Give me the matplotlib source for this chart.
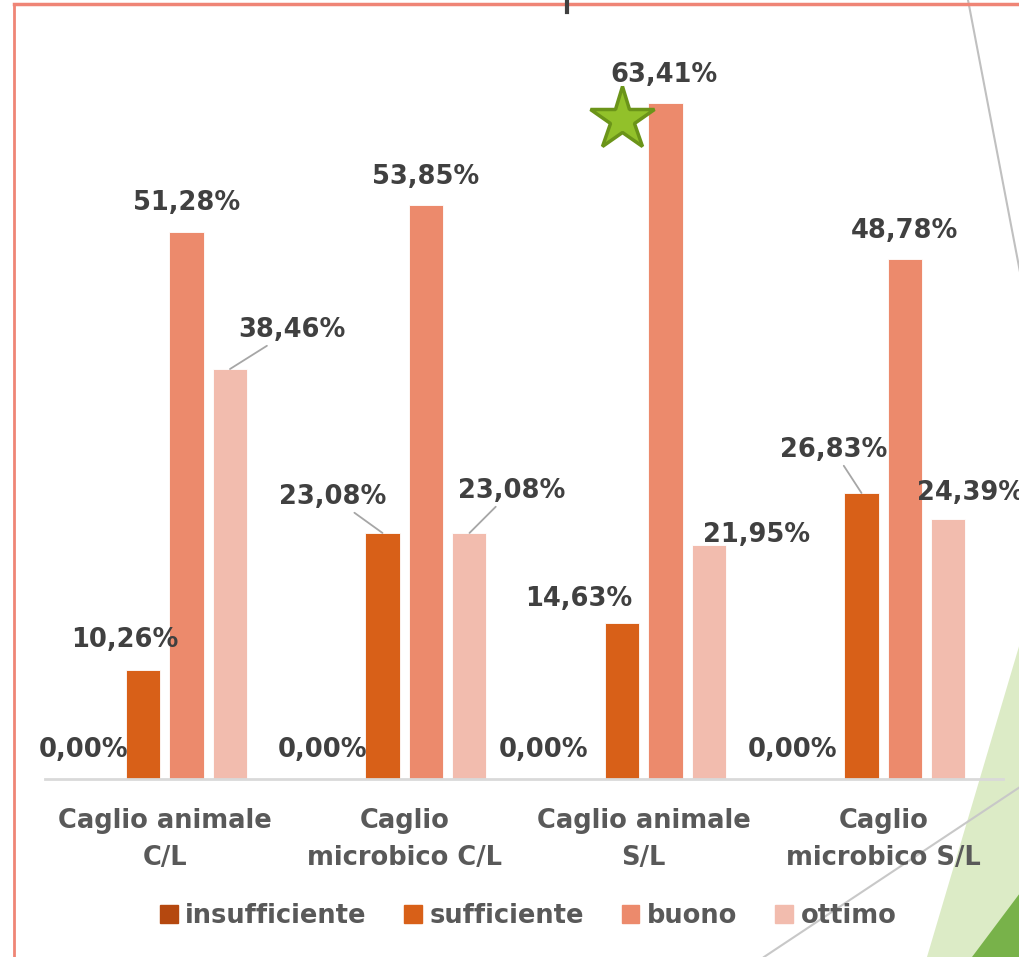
import numpy as np
import matplotlib
matplotlib.use('Agg')
import matplotlib.pyplot as plt
from matplotlib.patches import Patch, Polygon

# data
categories = ['Caglio animale\nC/L', 'Caglio\nmicrobico C/L', 'Caglio animale\nS/L', 'Caglio\nmicrobico S/L']
series = ['insufficiente', 'sufficiente', 'buono', 'ottimo']
insufficiente = [0.00, 0.00, 0.00, 0.00]
sufficiente = [10.26, 23.08, 14.63, 26.83]
buono = [51.28, 53.85, 63.41, 48.78]
ottimo = [38.46, 23.08, 21.95, 24.39]
values = [insufficiente, sufficiente, buono, ottimo]

colors = ['#b5480f', '#d86018', '#ec8a6c', '#f2bcae']

# label offsets in pixels (dx, dy) from the top centre of each bar, and whether a leader line is drawn
label_off = [
    [(-16, 29), (-16, 29), (-35, 29), (-25, 29)],
    [(-18, 30), (-50, 36), (-43, 24), (-28, 43)],
    [(0, 29), (0, 28), (-1, 28), (0, 28)],
    [(62, 39), (42, 42), (48, 10), (22, 26)],
]
leaders = {(3, 0), (1, 1), (3, 1), (1, 3)}

FS = 18.5
W, H = 1020, 957
fig = plt.figure(figsize=(W / 100, H / 100), dpi=100)

# slide decoration behind the chart
bg = fig.add_axes([0, 0, 1, 1], zorder=0)
bg.set_xlim(0, W)
bg.set_ylim(H, 0)
bg.axis('off')
bg.add_patch(Polygon([(1020, 643), (927, 957), (1020, 957)], closed=True, color='#dcebc6', lw=0))
bg.add_patch(Polygon([(1020, 893), (972, 957), (1020, 957)], closed=True, color='#78b24a', lw=0))
bg.plot([968, 1020], [0, 272], color='#c0c0c0', lw=1.5)
bg.plot([1020, 764], [787, 957], color='#c8c8c8', lw=1.5)
bg.plot([14, 14], [4, 957], color='#ef8576', lw=2)
bg.plot([14, 1020], [4, 4], color='#ef8576', lw=2.5)
bg.plot([567, 567], [0, 12], color='#404040', lw=3)

ax = fig.add_axes([45 / W, (H - 779) / H, (1003 - 45) / W, 746.2 / H], zorder=1)
ax.patch.set_alpha(0)

x = np.arange(len(categories))
bw = 0.142
step = 0.1816
for i, vals in enumerate(values):
    pos = x + (i - 1.5) * step
    ax.bar(pos, vals, width=bw, color=colors[i], label=series[i], zorder=2,
           edgecolor='white', linewidth=0.6)
    for j, v in enumerate(vals):
        dx, dy = label_off[i][j]
        txt = f'{v:.2f}%'.replace('.', ',')
        kw = dict(xy=(pos[j], v), xytext=(dx, dy), textcoords='offset pixels',
                  ha='center', va='center', fontsize=FS, fontweight='bold',
                  color='#404040', annotation_clip=False, zorder=4)
        if (i, j) in leaders:
            kw['arrowprops'] = dict(arrowstyle='-', color='#a6a6a6', lw=1.3, shrinkA=0, shrinkB=0)
        ax.annotate(txt, **kw)

# star highlighting the best result
ax.plot(x[2] - 0.5 * step, buono[2] - 1.5, marker='*', markersize=48,
        markerfacecolor='#92c12a', markeredgecolor='#6b9419', markeredgewidth=2.5,
        zorder=5, clip_on=False)

ax.set_xlim(-0.5, 3.5)
ax.set_ylim(0, 70)
for s in ['top', 'right', 'left']:
    ax.spines[s].set_visible(False)
ax.spines['bottom'].set_color('#d9d9d9')
ax.spines['bottom'].set_linewidth(2)
ax.set_yticks([])
ax.set_xticks(x)
ax.set_xticklabels(categories, fontsize=FS, fontweight='bold', color='#595959', linespacing=1.55)
ax.tick_params(axis='x', length=0, pad=21)

handles = [Patch(color=c) for c in colors]
leg = fig.legend(handles, series, loc='center', bbox_to_anchor=(528 / W, 1 - 916 / H), ncol=4,
                 frameon=False, handlelength=0.7, handleheight=0.7, handletextpad=0.3,
                 columnspacing=1.45, prop={'size': 18.5, 'weight': 'bold'})
for t in leg.get_texts():
    t.set_color('#595959')

fig.savefig('out.png', dpi=100)
